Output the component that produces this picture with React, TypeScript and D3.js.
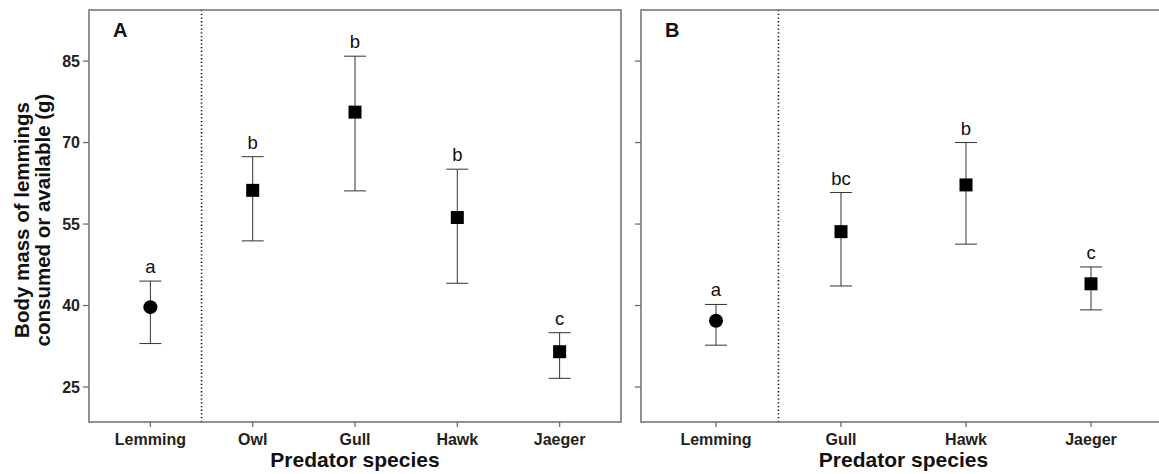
import React from "react";
import * as d3 from "d3";

// Panel A: lemmings available vs. consumed by four predators
const panelACategories = ["Lemming", "Owl", "Gull", "Hawk", "Jaeger"];
const panelAMeans = [39.7, 61.2, 75.6, 56.2, 31.5];
const panelAUpper = [44.5, 67.4, 85.9, 65.1, 35.0];
const panelALower = [33.0, 51.9, 61.1, 44.1, 26.6];
const panelALetters = ["a", "b", "b", "b", "c"];

// Panel B: lemmings available vs. consumed by three predators
const panelBCategories = ["Lemming", "Gull", "Hawk", "Jaeger"];
const panelBMeans = [37.2, 53.6, 62.2, 44.0];
const panelBUpper = [40.2, 60.8, 70.0, 47.1];
const panelBLower = [32.7, 43.6, 51.3, 39.2];
const panelBLetters = ["a", "bc", "b", "c"];

const yTicks = [25, 40, 55, 70, 85];
const yDomain = [18.56, 94.4];

const WIDTH = 1159;
const HEIGHT = 474;
const TOP = 10;
const BOTTOM = 422;
const FONT = "'Liberation Sans', Arial, Helvetica, sans-serif";
const BORDER = "#6e6e6e";

type PanelProps = {
  label: string;
  left: number;
  right: number;
  categories: string[];
  means: number[];
  upper: number[];
  lower: number[];
  letters: string[];
  showYLabels: boolean;
};

function Panel(p: PanelProps) {
  const y = d3.scaleLinear().domain(yDomain).range([BOTTOM, TOP]);
  const x = d3.scalePoint<string>().domain(p.categories).range([p.left, p.right]).padding(0.6);
  const step = x.step();
  const dividerX = (x(p.categories[0]) as number) + step / 2;
  const cap = 11;
  const sq = 13;

  return (
    <g>
      {/* y ticks */}
      {yTicks.map((t) => (
        <g key={t}>
          <line x1={p.left - 6} x2={p.left} y1={y(t)} y2={y(t)} stroke={BORDER} strokeWidth={1.3} />
          {p.showYLabels && (
            <text x={p.left - 9} y={y(t)} dy="0.35em" textAnchor="end" fontSize={16} fontWeight="bold" fill="#222" fontFamily={FONT}>
              {t}
            </text>
          )}
        </g>
      ))}
      {/* x ticks and labels */}
      {p.categories.map((c) => (
        <g key={c}>
          <line x1={x(c)} x2={x(c)} y1={BOTTOM} y2={BOTTOM + 5} stroke={BORDER} strokeWidth={1.3} />
          <text x={x(c)} y={BOTTOM + 23} textAnchor="middle" fontSize={16} fontWeight="bold" fill="#222" fontFamily={FONT}>
            {c}
          </text>
        </g>
      ))}
      {/* divider between available and consumed */}
      <line x1={dividerX} x2={dividerX} y1={TOP} y2={BOTTOM} stroke="#111" strokeWidth={1.6} strokeDasharray="1.3,2.4" />
      {/* error bars */}
      {p.categories.map((c, i) => {
        const cx = x(c) as number;
        return (
          <g key={c} stroke="#333" strokeWidth={1}>
            <line x1={cx} x2={cx} y1={y(p.upper[i])} y2={y(p.lower[i])} />
            <line x1={cx - cap} x2={cx + cap} y1={y(p.upper[i])} y2={y(p.upper[i])} />
            <line x1={cx - cap} x2={cx + cap} y1={y(p.lower[i])} y2={y(p.lower[i])} />
          </g>
        );
      })}
      {/* means */}
      {p.categories.map((c, i) => {
        const cx = x(c) as number;
        const cy = y(p.means[i]);
        return i === 0 ? (
          <circle key={c} cx={cx} cy={cy} r={7} fill="#000" />
        ) : (
          <rect key={c} x={cx - sq / 2} y={cy - sq / 2} width={sq} height={sq} fill="#000" />
        );
      })}
      {/* group letters */}
      {p.categories.map((c, i) => (
        <text key={c} x={x(c)} y={y(p.upper[i]) - 8} textAnchor="middle" fontSize={18.5} fill="#111" fontFamily={FONT}>
          {p.letters[i]}
        </text>
      ))}
      {/* panel border */}
      <rect x={p.left} y={TOP} width={p.right - p.left} height={BOTTOM - TOP} fill="none" stroke={BORDER} strokeWidth={1.5} />
      <text x={p.left + 24} y={36.5} fontSize={20} fontWeight="bold" fill="#111" fontFamily={FONT}>
        {p.label}
      </text>
      <text x={(p.left + p.right) / 2} y={BOTTOM + 45} textAnchor="middle" fontSize={21} fontWeight="bold" fill="#111" fontFamily={FONT}>
        Predator species
      </text>
    </g>
  );
}

export default function App() {
  const titleY = 220;
  return (
    <svg width={WIDTH} height={HEIGHT} style={{ position: "absolute", left: 0, top: 0, background: "#fff" }}>
      <rect width={WIDTH} height={HEIGHT} fill="#fff" />
      <g transform={`translate(29,${titleY}) rotate(-90)`}>
        <text textAnchor="middle" fontSize={20.5} fontWeight="bold" fill="#111" fontFamily={FONT}>
          Body mass of lemmings
        </text>
      </g>
      <g transform={`translate(49.5,${titleY}) rotate(-90)`}>
        <text textAnchor="middle" fontSize={20.5} fontWeight="bold" fill="#111" fontFamily={FONT}>
          consumed or available (g)
        </text>
      </g>
      <Panel
        label="A"
        left={89}
        right={621}
        categories={panelACategories}
        means={panelAMeans}
        upper={panelAUpper}
        lower={panelALower}
        letters={panelALetters}
        showYLabels={true}
      />
      <Panel
        label="B"
        left={641}
        right={1166}
        categories={panelBCategories}
        means={panelBMeans}
        upper={panelBUpper}
        lower={panelBLower}
        letters={panelBLetters}
        showYLabels={false}
      />
    </svg>
  );
}
